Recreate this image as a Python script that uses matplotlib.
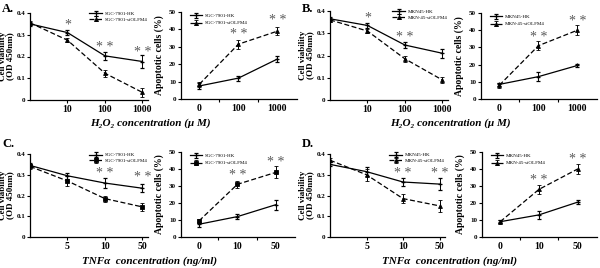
import matplotlib
matplotlib.use("Agg")
import matplotlib.pyplot as plt
import numpy as np

plt.rcParams['font.family'] = ['Liberation Serif', 'DejaVu Serif']

# ---------------- data ----------------
h2o2_left_ticks = ["10", "100", "1000"]
h2o2_right_ticks = ["0", "100", "1000"]
tnf_left_ticks = ["5", "10", "50"]
tnf_right_ticks = ["0", "10", "50"]

# A (SGC-7901)
A_via_hk = [0.350, 0.310, 0.203, 0.177]
A_via_hk_err = [0.010, 0.010, 0.018, 0.030]
A_via_si = [0.355, 0.275, 0.123, 0.035]
A_via_si_err = [0.008, 0.010, 0.015, 0.020]
A_apo_hk = [7.5, 12.0, 23.0]
A_apo_hk_err = [1.5, 1.5, 1.5]
A_apo_si = [8.5, 31.5, 39.0]
A_apo_si_err = [1.5, 2.5, 2.5]
# B (MKN-45)
B_via_hk = [0.365, 0.335, 0.247, 0.210]
B_via_hk_err = [0.010, 0.012, 0.012, 0.020]
B_via_si = [0.360, 0.310, 0.185, 0.090]
B_via_si_err = [0.008, 0.010, 0.012, 0.015]
B_apo_hk = [8.5, 13.0, 19.5]
B_apo_hk_err = [1.0, 2.5, 1.0]
B_apo_si = [8.0, 31.0, 40.0]
B_apo_si_err = [1.5, 2.5, 3.0]
# C (SGC-7901, TNF)
C_via_hk = [0.345, 0.295, 0.260, 0.235]
C_via_hk_err = [0.010, 0.015, 0.025, 0.020]
C_via_si = [0.340, 0.270, 0.185, 0.145]
C_via_si_err = [0.010, 0.025, 0.015, 0.020]
C_apo_hk = [7.5, 12.0, 19.0]
C_apo_hk_err = [1.5, 1.5, 3.0]
C_apo_si = [9.5, 31.0, 38.0]
C_apo_si_err = [1.0, 2.0, 3.5]
# D (MKN-45, TNF)
D_via_hk = [0.350, 0.315, 0.265, 0.255]
D_via_hk_err = [0.010, 0.020, 0.020, 0.030]
D_via_si = [0.370, 0.300, 0.185, 0.150]
D_via_si_err = [0.010, 0.030, 0.020, 0.030]
D_apo_hk = [9.0, 13.0, 20.5]
D_apo_hk_err = [1.0, 2.5, 1.0]
D_apo_si = [9.0, 28.0, 40.0]
D_apo_si_err = [1.0, 2.5, 3.0]

# significance marks: (x index, y value, text)
A_via_stars = [(1, 0.345, "*"), (2, 0.240, "* *"), (3, 0.220, "* *")]
A_apo_stars = [(1, 37.0, "* *"), (2, 45.0, "* *")]
B_via_stars = [(1, 0.370, "*"), (2, 0.280, "* *")]
B_apo_stars = [(1, 36.0, "* *"), (2, 45.0, "* *")]
C_via_stars = [(2, 0.305, "* *"), (3, 0.285, "* *")]
C_apo_stars = [(1, 36.0, "* *"), (2, 44.0, "* *")]
D_via_stars = [(2, 0.305, "* *"), (3, 0.305, "* *")]
D_apo_stars = [(1, 33.0, "* *"), (2, 45.5, "* *")]

fig = plt.figure(figsize=(6.0, 2.68), dpi=100)
W, H = 600.0, 268.0

def px(l, r, t, b):
    return [l / W, 1 - b / H, (r - l) / W, (b - t) / H]

def style(ax):
    for s in ["top", "right"]:
        ax.spines[s].set_visible(False)
    for s in ["left", "bottom"]:
        ax.spines[s].set_linewidth(0.9)
    ax.tick_params(length=2, width=0.8, pad=1.5)

def add_lines(ax, hk, hke, si, sie, names, si_marker):
    x = np.arange(len(hk))
    ax.errorbar(x, hk, yerr=hke, color="black", lw=0.9, ls="-", marker="+",
                ms=3.5, mew=0.9, capsize=1.5, elinewidth=0.7, label=names[0])
    ax.errorbar(x, si, yerr=sie, color="black", lw=0.9, ls=(0, (4, 2)), marker=si_marker,
                ms=2.8, mew=0.6, capsize=1.5, elinewidth=0.7, label=names[1])

def add_stars(ax, stars):
    for xi, yv, t in stars:
        ax.text(xi, yv, t, ha="center", va="center", fontsize=10, color="#5a5a5a")

def via_panel(rect, hk, hke, si, sie, ticks, names, stars, si_marker):
    ax = fig.add_axes(px(*rect))
    add_lines(ax, hk, hke, si, sie, names, si_marker)
    ax.set_xlim(0, 3.15)
    ax.set_ylim(0, 0.4)
    ax.set_xticks([1, 2, 3])
    ax.set_xticklabels(ticks, fontsize=7, fontweight="bold")
    ax.set_yticks([0, 0.1, 0.2, 0.3, 0.4])
    ax.set_yticklabels(["0", "0.1", "0.2", "0.3", "0.4"], fontsize=5, fontweight="bold")
    style(ax)
    ax.set_ylabel("Cell viability\n(OD 450nm)", fontsize=6.5, fontweight="bold",
                  linespacing=0.85)
    ax.yaxis.set_label_coords(-0.135, 0.5)
    add_stars(ax, stars)
    ax.legend(loc="upper right", bbox_to_anchor=(1.02, 1.05), fontsize=3.6,
              frameon=False, handlelength=2.5, borderaxespad=0.2,
              labelspacing=0.2, handletextpad=0.5)
    return ax

def apo_panel(rect, hk, hke, si, sie, ticks, names, stars, si_marker):
    ax = fig.add_axes(px(*rect))
    add_lines(ax, hk, hke, si, sie, names, si_marker)
    ax.set_xlim(-0.47, 2.5)
    ax.set_ylim(0, 50)
    ax.set_xticks([0, 1, 2])
    ax.set_xticklabels(ticks, fontsize=7, fontweight="bold")
    ax.set_xticks([0.5, 1.5], minor=True)
    ax.set_yticks([0, 10, 20, 30, 40, 50])
    ax.set_yticklabels(["0", "10", "20", "30", "40", "50"], fontsize=5, fontweight="bold")
    style(ax)
    ax.tick_params(axis="x", which="major", length=0, pad=3.5)
    ax.tick_params(axis="x", which="minor", length=2, width=0.8)
    ax.set_ylabel("Apoptotic cells (%)", fontsize=7, fontweight="bold")
    ax.yaxis.set_label_coords(-0.15, 0.5)
    add_stars(ax, stars)
    ax.legend(loc="upper left", bbox_to_anchor=(0.05, 1.02), fontsize=3.6,
              frameon=False, handlelength=2.5, borderaxespad=0.2,
              labelspacing=0.6, handletextpad=0.5)
    return ax

sgc = ["SGC-7901-HK", "SGC-7901-siOLFM4"]
mkn = ["MKN45-HK", "MKN-45-siOLFM4"]

via_panel((30, 148, 13, 100), A_via_hk, A_via_hk_err, A_via_si, A_via_si_err,
          h2o2_left_ticks, sgc, A_via_stars, "^")
apo_panel((181, 297, 12, 99), A_apo_hk, A_apo_hk_err, A_apo_si, A_apo_si_err,
          h2o2_right_ticks, sgc, A_apo_stars, "^")
via_panel((330, 448, 11, 100), B_via_hk, B_via_hk_err, B_via_si, B_via_si_err,
          h2o2_left_ticks, mkn, B_via_stars, "^")
apo_panel((481, 597, 13, 99), B_apo_hk, B_apo_hk_err, B_apo_si, B_apo_si_err,
          h2o2_right_ticks, mkn, B_apo_stars, "^")
via_panel((30, 148, 154, 237), C_via_hk, C_via_hk_err, C_via_si, C_via_si_err,
          tnf_left_ticks, sgc, C_via_stars, "s")
apo_panel((181, 295, 152, 237), C_apo_hk, C_apo_hk_err, C_apo_si, C_apo_si_err,
          tnf_right_ticks, sgc, C_apo_stars, "s")
via_panel((330, 445, 154, 237), D_via_hk, D_via_hk_err, D_via_si, D_via_si_err,
          tnf_left_ticks, mkn, D_via_stars, "^")
apo_panel((482, 597, 152, 237), D_apo_hk, D_apo_hk_err, D_apo_si, D_apo_si_err,
          tnf_right_ticks, mkn, D_apo_stars, "^")

# axis titles
for cx, cy, t in [(150, 123, "H₂O₂ concentration (μ M)"),
                  (450, 123, "H₂O₂ concentration (μ M)"),
                  (150, 261, "TNFα  concentration (ng/ml)"),
                  (450, 261, "TNFα  concentration (ng/ml)")]:
    fig.text(cx / W, 1 - cy / H, t, ha="center", va="center",
             fontsize=8, fontweight="bold", fontstyle="italic")

# panel letters
for lx, ly, lt in [(2, 9, "A."), (302, 9, "B."), (2, 144, "C."), (302, 144, "D.")]:
    fig.text(lx / W, 1 - ly / H, lt, ha="left", va="center", fontsize=9, fontweight="bold")

fig.savefig("out.png", dpi=100)
